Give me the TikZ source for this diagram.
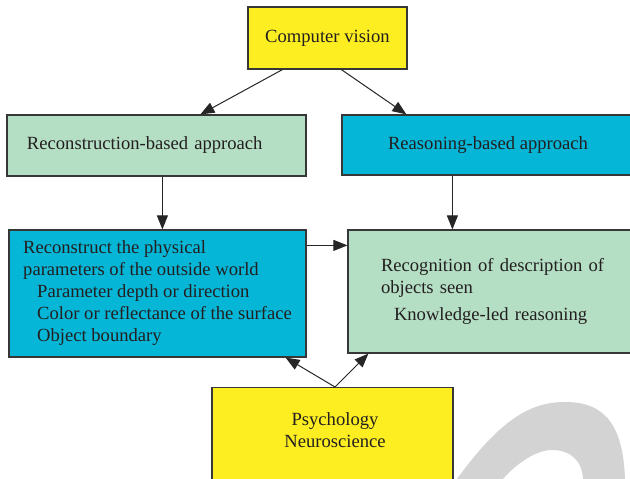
\documentclass[tikz,border=0pt]{standalone}
\usepackage{fontspec}
\setmainfont{Liberation Serif}
\usepackage{tikz}
\definecolor{cvyellow}{RGB}{252,238,33}
\definecolor{mintgreen}{RGB}{181,223,196}
\definecolor{skycyan}{RGB}{6,182,215}
\definecolor{boxline}{RGB}{55,55,55}
\definecolor{darktext}{RGB}{35,31,32}
\definecolor{markgray}{RGB}{211,211,211}
\usetikzlibrary{arrows.meta, positioning, calc}

\tikzset{
    box/.style={draw=boxline, line width=1.2pt, text=darktext,
                font=\fontsize{18.6}{22}\selectfont, inner sep=0pt},
    arr/.style={draw=black!85, line width=1pt, -{Triangle[length=14pt,width=11pt]}}
}

\begin{document}
\begin{tikzpicture}[x=1pt, y=-1pt]
        \useasboundingbox (0,0) rectangle (630,479);
        \clip (0,0) rectangle (630,479);
        \fill[markgray] (457,479) .. controls (500,420) and (530,402) .. (565,402)
              .. controls (605,402) and (623,425) .. (625,479) -- (583,479)
              .. controls (582,460) and (570,450) .. (552,450)
              .. controls (535,450) and (515,465) .. (503,479) -- cycle;

        \node[box, fill=cvyellow, minimum width=159pt, minimum height=62pt] (cv) at (327.5,38) {Computer vision};
        \node[box, fill=mintgreen, minimum width=299pt, minimum height=61pt,
              text width=259pt, align=left] (recbased) at (156.5,145.5) {Reconstruction-based approach};
        \node[box, fill=skycyan, minimum width=292pt, minimum height=60pt] (reasbased) at (488,145) {Reasoning-based approach};
        \node[box, fill=skycyan, minimum width=297pt, minimum height=127pt, align=left] (reconstruct) at (157.5,293.5) {
            Reconstruct the physical\\
            parameters of the outside world\\
            \hspace*{14pt}Parameter depth or direction\\
            \hspace*{14pt}Color or reflectance of the surface\\
            \hspace*{14pt}Object boundary};
        \node[box, fill=mintgreen, minimum width=292pt, minimum height=123pt,
              text width=226pt, align=left] (recognition) at (494,291.5) {
            Recognition of description of\\
            objects seen\\[5pt]
            \hspace*{13pt}Knowledge-led reasoning};
        \node[box, fill=cvyellow, minimum width=241pt, minimum height=110pt, anchor=north] (psych) at (332.5,387) {};
        \node[text=darktext, font=\fontsize{18.6}{22}\selectfont, align=center, inner sep=0pt] (psychtext) at (335,430) {Psychology\\Neuroscience};

        \draw[arr] ([xshift=35pt]cv.south west) -- ([xshift=194pt]recbased.north west);
        \draw[arr] ([xshift=94pt]cv.south west) -- ([xshift=65pt]reasbased.north west);
        \draw[arr] ([xshift=156pt]recbased.south west) -- ([xshift=154pt]reconstruct.north west);
        \draw[arr] ([xshift=111pt]reasbased.south west) -- ([xshift=105pt]recognition.north west);
        \draw[arr] ([yshift=-16pt]reconstruct.north east) -- ([yshift=-16pt]recognition.north west);
        \draw[arr] ([xshift=2.5pt]psych.north) -- ([xshift=-21pt]reconstruct.south east);
        \draw[arr] ([xshift=2.5pt]psych.north) -- ([xshift=21pt]recognition.south west);
    \end{tikzpicture}
\end{document}
